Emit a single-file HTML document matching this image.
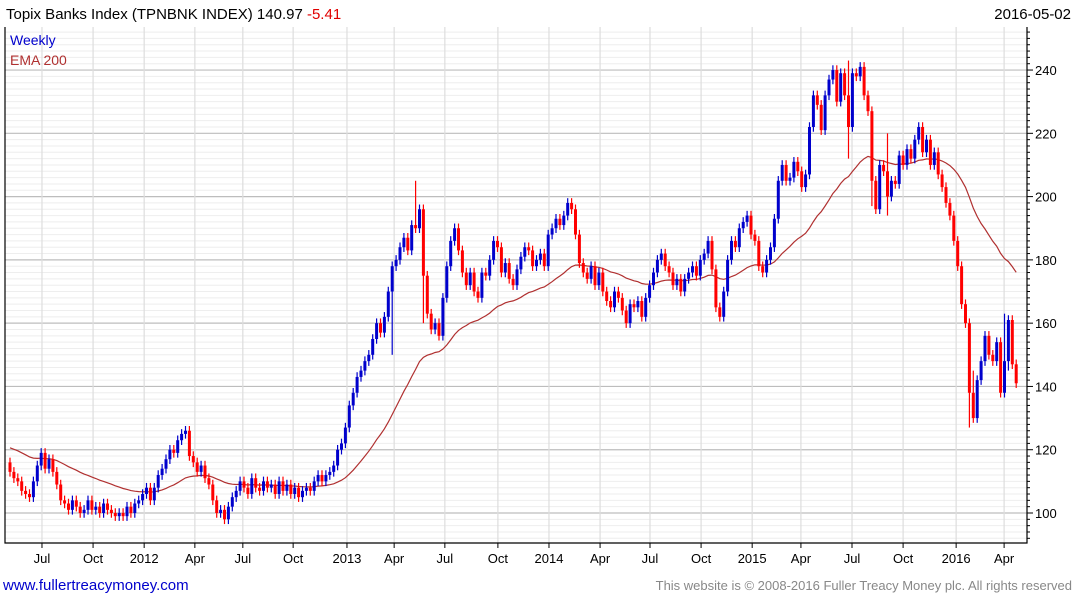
<!DOCTYPE html>
<html><head><meta charset="utf-8"><style>
body{margin:0;background:#fff;width:1075px;height:600px;overflow:hidden;font-family:"Liberation Sans",sans-serif}
svg{display:block}
</style></head><body>
<svg id="chart" width="1075" height="600" xmlns="http://www.w3.org/2000/svg">
<text x="6" y="19" font-size="15" fill="#000">Topix Banks Index (TPNBNK INDEX) 140.97 <tspan fill="#e00000">-5.41</tspan></text>
<text x="1071" y="19" font-size="15" fill="#000" text-anchor="end">2016-05-02</text>
<g id="grid"></g>
<g id="ema"></g>
<g id="candles"></g>
<g id="axes"></g>
<text x="10" y="45" font-size="14" fill="#0000cc">Weekly</text>
<text x="10" y="65" font-size="14" fill="#b03030">EMA 200</text>
<text x="3" y="590" font-size="15" fill="#0000cc">www.fullertreacymoney.com</text>
<text x="1072" y="590" font-size="13" fill="#888" text-anchor="end">This website is © 2008-2016 Fuller Treacy Money plc. All rights reserved</text>
</svg>
<script>
const closes=[113,111,110,107,106,105,110,115,119,114,
117,113,109,104,103,101,104,102,100,101,
104,101,102,100,103,101,100,99,100,99,
102,100,103,104,106,108,104,108,112,114,
117,120,119,123,125,126,118,116,113,115,
111,109,104,100,101,98,102,105,107,110,
108,106,111,108,107,110,108,109,106,110,
107,109,106,108,105,107,108,107,110,112,
110,112,113,115,120,122,127,134,138,143,
145,148,150,155,160,157,162,170,178,180,
184,187,183,191,190,196,175,163,158,160,
156,168,178,186,190,183,176,172,176,170,
168,176,175,180,186,184,176,179,174,172,
177,181,184,183,178,180,182,178,188,190,
193,191,194,198,196,188,179,176,174,178,
172,176,170,167,165,170,168,164,160,166,
165,167,162,168,172,176,180,182,178,176,
172,174,170,174,176,178,175,180,182,186,
177,165,162,170,180,186,184,190,192,194,
188,186,178,176,180,184,193,205,210,205,
206,211,208,203,207,222,232,229,221,232,
237,240,230,239,232,222,239,238,241,232,
227,205,196,210,208,200,205,204,213,210,
215,212,218,222,214,218,210,214,207,203,
198,194,186,178,166,160,138,130,142,148,
156,150,148,154,138,148,161,147,141];
const firstOpen=116;
const spikeIdx=[98,104,106,215,221,225,246,247,255,256];
const spikeHigh=[170,205,197,243,214,220,150,145,163,162];
const spikeLow=[150,189,160,212,197,194,127,130,150,145];
const yTicks=[100,120,140,160,180,200,220,240];
const xTickIdx=[8.2,21.3,34.4,47.4,59.7,72.6,86.4,98.5,111.5,125.1,138.2,151.3,164.1,177.2,190.3,202.8,215.9,229,242.6,254.9];
const xTickLabels=["Jul","Oct","2012","Apr","Jul","Oct","2013","Apr","Jul","Oct","2014","Apr","Jul","Oct","2015","Apr","Jul","Oct","2016","Apr"];
const emaSeed=121, emaPeriod=40;

const L=5,R=1027,T=27,B=543;
const xs=i=>10+i*3.9;
const ys=v=>513-(v-100)*3.164;
const NS="http://www.w3.org/2000/svg";
function mk(tag,attrs,parent){const e=document.createElementNS(NS,tag);for(const k in attrs)e.setAttribute(k,attrs[k]);parent.appendChild(e);return e;}
const grid=document.getElementById('grid'),axes=document.getElementById('axes'),cg=document.getElementById('candles'),eg=document.getElementById('ema');
// minor horizontal grid
for(let v=92;v<=252;v+=2){const y=ys(v);if(y<T||y>B)continue;
 const major=v%20===0;
 const l=mk('line',{x1:L,x2:R,y1:y,y2:y,stroke:major?'#bdbdbd':'#eeeeee','stroke-width':major?1.2:1},grid);
 
 
 const t=mk('line',{x1:R,x2:R+(major?6:3),y1:y,y2:y,stroke:'#000','stroke-width':1},axes);
 
 
}
yTicks.forEach(v=>{const t=mk('text',{x:R+8,y:ys(v)+5,'font-size':13,fill:'#000'},axes);t.textContent=v;
 
 });
xTickIdx.forEach((ix,k)=>{const x=xs(ix);
 const l=mk('line',{x1:x,x2:x,y1:T,y2:B,stroke:'#dddddd','stroke-width':1.2},grid);
 
 
 const t=mk('line',{x1:x,x2:x,y1:B,y2:B+5,stroke:'#000'},axes);
 
 
 const tx=mk('text',{x:x,y:B+20,'font-size':13,'text-anchor':'middle',fill:'#000'},axes);tx.textContent=xTickLabels[k];
 
 });
// frame
const fr=mk('path',{d:`M${L},${T}V${B}H${R}V${T}`,fill:'none',stroke:'#000','stroke-width':1.2},axes);


// ema
let e=emaSeed,pts=[];const a=2/(emaPeriod+1);
closes.forEach((c,i)=>{e=e+a*(c-e);pts.push(xs(i).toFixed(1)+','+ys(e).toFixed(1));});
const pl=mk('polyline',{points:pts.join(' '),fill:'none',stroke:'#b03030','stroke-width':1.2},eg);


// candles
closes.forEach((c,i)=>{
 const o=i===0?firstOpen:closes[i-1];
 let hi=Math.max(o,c)+1.5,lo=Math.min(o,c)-1.5;
 const s=spikeIdx.indexOf(i);if(s>=0){hi=Math.max(hi,spikeHigh[s]);lo=Math.min(lo,spikeLow[s]);}
 const col=c>=o?'#0000cc':'#ff0000';const x=xs(i);
 const g=mk('g',{},cg);
 
 
 mk('line',{x1:x,x2:x,y1:ys(hi),y2:ys(lo),stroke:col,'stroke-width':1.2},g);
 const top=ys(Math.max(o,c)),h=Math.max(1.5,ys(Math.min(o,c))-top);
 mk('rect',{x:x-1.5,y:top,width:3,height:h,fill:col},g);
});
</script>
</body></html>
